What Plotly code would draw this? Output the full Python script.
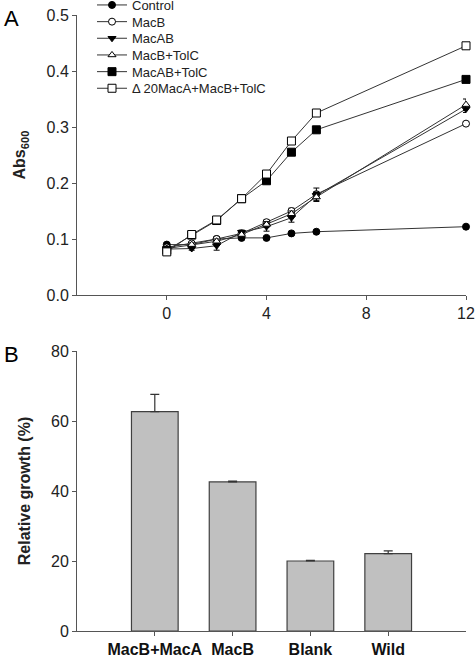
import plotly.graph_objects as go

# ---------- Panel A data ----------
time_h = [0, 1, 2, 3, 4, 5, 6, 12]
series_names = ["Control", "MacB", "MacAB", "MacB+TolC", "MacAB+TolC", "\u0394 20MacA+MacB+TolC"]
control = [0.090, 0.090, 0.100, 0.102, 0.102, 0.110, 0.113, 0.122]
macb = [0.085, 0.092, 0.100, 0.110, 0.130, 0.150, 0.180, 0.306]
macab = [0.082, 0.083, 0.088, 0.112, 0.122, 0.138, 0.178, 0.332]
macb_tolc = [0.083, 0.090, 0.096, 0.108, 0.126, 0.145, 0.175, 0.340]
macab_tolc = [0.080, 0.107, 0.133, 0.172, 0.204, 0.255, 0.295, 0.385]
d20_macab_tolc = [0.077, 0.108, 0.134, 0.172, 0.216, 0.275, 0.325, 0.445]

control_err = [0.003, 0.002, 0.003, 0.002, 0.002, 0.002, 0.002, 0.002]
macb_err = [0.003, 0.003, 0.004, 0.004, 0.004, 0.005, 0.011, 0.003]
macab_err = [0.003, 0.003, 0.008, 0.004, 0.008, 0.008, 0.006, 0.006]
macb_tolc_err = [0.003, 0.003, 0.004, 0.004, 0.005, 0.005, 0.008, 0.010]
macab_tolc_err = [0.002, 0.002, 0.002, 0.002, 0.003, 0.003, 0.002, 0.002]
d20_err = [0.002, 0.002, 0.002, 0.002, 0.003, 0.003, 0.002, 0.002]

# ---------- Panel B data ----------
strains = ["MacB+MacA", "MacB", "Blank", "Wild"]
rel_growth = [62.7, 42.6, 20.0, 22.1]
rel_growth_err = [4.9, 0.2, 0.2, 0.8]

LINE = "#333333"
AXIS = "#555555"
FONT = "Liberation Sans, Arial, sans-serif"

fig = go.Figure()

series = [
    (control, control_err, "circle", "black"),
    (macb, macb_err, "circle", "white"),
    (macab, macab_err, "triangle-down", "black"),
    (macb_tolc, macb_tolc_err, "triangle-up", "white"),
    (macab_tolc, macab_tolc_err, "square", "black"),
    (d20_macab_tolc, d20_err, "square", "white"),
]
legend_ids = ["legend", "legend2", "legend3", "legend4", "legend5", "legend6"]
for name, (vals, err, sym, fill), lg in zip(series_names, series, legend_ids):
    fig.add_trace(go.Scatter(
        x=time_h, y=vals, name=name, mode="lines+markers",
        line=dict(color=LINE, width=1),
        marker=dict(symbol=sym, size=8 if sym == "square" else 7, color=fill,
                    line=dict(color="black", width=1)),
        error_y=dict(type="data", array=err, color="black", thickness=1, width=3),
        cliponaxis=False, xaxis="x", yaxis="y", legend=lg,
    ))

fig.add_trace(go.Bar(
    x=strains, y=rel_growth, width=0.6,
    marker=dict(color="#c0c0c0", line=dict(color="#404040", width=1.2)),
    error_y=dict(type="data", array=rel_growth_err, arrayminus=[0] * len(rel_growth_err),
                 symmetric=False, color="#333333", thickness=1.2, width=4.5),
    showlegend=False, xaxis="x2", yaxis="y2",
))

W, H = 475, 658
xdom = [77 / W, 466 / W]
ydomA = [1 - 295 / H, 1 - 15 / H]
ydomB = [1 - 631 / H, 1 - 351 / H]

axis_common = dict(showline=True, linecolor=AXIS, linewidth=1, ticks="outside", ticklen=4,
                   tickcolor=AXIS, showgrid=False, zeroline=False, automargin=False,
                   tickfont=dict(family=FONT, size=16, color="#222222"))

layout = dict(
    width=W, height=H, margin=dict(l=0, r=0, t=0, b=0, autoexpand=False),
    paper_bgcolor="white", plot_bgcolor="white",
    font=dict(family=FONT, color="#222222"),
    xaxis=dict(domain=xdom, anchor="y", range=[-3.6, 12], tickvals=[0, 4, 8, 12], **axis_common),
    yaxis=dict(domain=ydomA, anchor="x", range=[0, 0.5], tickvals=[0, 0.1, 0.2, 0.3, 0.4, 0.5],
               tickformat=".1f",
               title=dict(text="<b>Abs<sub>600</sub></b>", font=dict(family=FONT, size=16), standoff=16),
               **axis_common),
    xaxis2=dict(domain=xdom, anchor="y2", range=[-1, 4],
                **{**axis_common, "tickfont": dict(family=FONT, size=16, color="#111111", weight="bold")}),
    yaxis2=dict(domain=ydomB, anchor="x2", range=[0, 80], tickvals=[0, 20, 40, 60, 80],
                title=dict(text="<b>Relative growth (%)</b>", font=dict(family=FONT, size=16), standoff=16),
                **axis_common),
    annotations=[
        dict(text="A", x=2 / W, y=1 - 4 / H, xref="paper", yref="paper", xanchor="left", yanchor="top",
             showarrow=False, font=dict(family=FONT, size=22, color="black")),
        dict(text="B", x=2 / W, y=1 - 340 / H, xref="paper", yref="paper", xanchor="left", yanchor="top",
             showarrow=False, font=dict(family=FONT, size=22, color="black")),
    ],
)
legend_y = [5, 21.7, 38.3, 55, 71.7, 88.3]
for lg, yy in zip(legend_ids, legend_y):
    layout[lg] = dict(x=92 / W, y=1 - yy / H, xanchor="left", yanchor="middle",
                      bgcolor="rgba(0,0,0,0)", borderwidth=0,
                      font=dict(family=FONT, size=13, color="#222222"),
                      itemwidth=30)
fig.update_layout(**layout)

fig.write_html("out.html", config={"displayModeBar": False},
               post_script="document.body.style.margin='0';document.body.style.overflow='hidden';")
